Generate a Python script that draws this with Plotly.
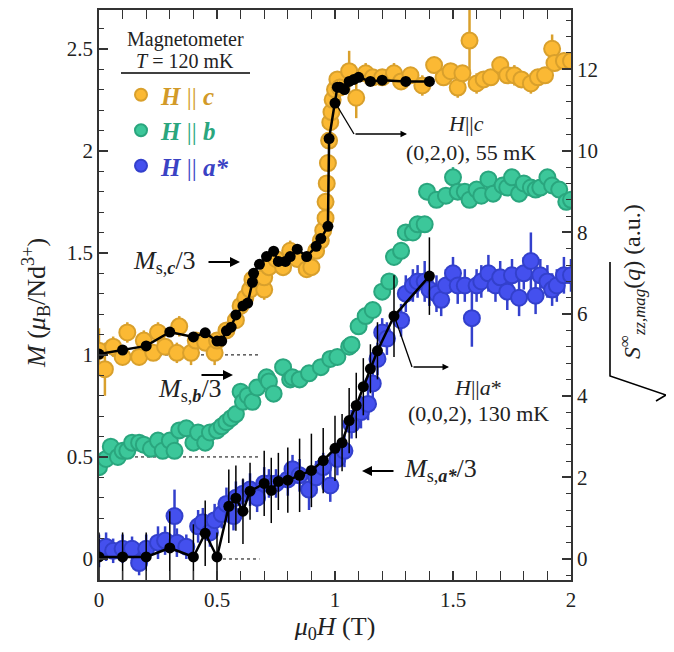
import plotly.graph_objects as go

# ---------------- data ----------------
# Magnetometer, H || c  (left axis, M in muB/Nd)
c_x = [0.00, 0.025, 0.06, 0.10, 0.12, 0.17, 0.19, 0.23, 0.25, 0.28, 0.33, 0.34, 0.39, 0.41, 0.45, 0.49, 0.50,
       0.54, 0.58, 0.60, 0.62, 0.64, 0.65, 0.70, 0.70, 0.72, 0.75, 0.78, 0.81, 0.84, 0.88, 0.90, 0.92, 0.94,
       0.95, 0.96, 0.96, 0.965, 0.97, 0.975, 0.98, 0.985, 0.99, 1.00, 1.01, 1.02, 1.06, 1.09, 1.13, 1.16, 1.20,
       1.25, 1.28, 1.32, 1.37, 1.42, 1.46, 1.49, 1.52, 1.54, 1.57, 1.60, 1.63, 1.66, 1.70, 1.73, 1.76, 1.79,
       1.83, 1.86, 1.89, 1.92, 1.93, 1.97, 2.00]
c_y = [1.02, 0.93, 1.04, 0.99, 1.11, 0.99, 1.07, 1.01, 1.11, 1.04, 1.01, 1.14, 1.01, 1.07, 1.06, 1.01, 1.07,
       1.12, 1.17, 1.24, 1.28, 1.32, 1.37, 1.32, 1.38, 1.43, 1.47, 1.43, 1.51, 1.47, 1.42, 1.43, 1.51, 1.56,
       1.61, 1.67, 1.75, 1.84, 1.94, 2.05, 2.14, 2.19, 2.25, 2.30, 2.35, 2.31, 2.39, 2.26, 2.38, 2.36, 2.36,
       2.38, 2.34, 2.37, 2.32, 2.42, 2.36, 2.39, 2.31, 2.38, 2.54, 2.33, 2.35, 2.36, 2.42, 2.37, 2.37, 2.35,
       2.33, 2.36, 2.37, 2.50, 2.43, 2.44, 2.44]
c_err = [0.11, 0.13, 0.05, 0.04, 0.05, 0.04, 0.05, 0.04, 0.05, 0.04, 0.05, 0.05, 0.06, 0.04, 0.04, 0.06, 0.04,
         0.04, 0.04, 0.04, 0.04, 0.04, 0.04, 0.05, 0.04, 0.04, 0.05, 0.04, 0.05, 0.04, 0.04, 0.04, 0.04, 0.04,
         0.04, 0.04, 0.04, 0.04, 0.04, 0.04, 0.04, 0.04, 0.04, 0.04, 0.04, 0.04, 0.10, 0.10, 0.05, 0.04, 0.04,
         0.05, 0.04, 0.04, 0.05, 0.04, 0.04, 0.04, 0.05, 0.04, 0.15, 0.05, 0.04, 0.04, 0.04, 0.04, 0.05, 0.04,
         0.05, 0.04, 0.04, 0.07, 0.04, 0.04, 0.04]

# Magnetometer, H || b
b_x = [0.00, 0.03, 0.05, 0.08, 0.10, 0.12, 0.14, 0.17, 0.19, 0.22, 0.25, 0.27, 0.30, 0.32, 0.34, 0.37, 0.40,
       0.42, 0.45, 0.47, 0.50, 0.52, 0.54, 0.56, 0.58, 0.60, 0.61, 0.63, 0.65, 0.67, 0.71, 0.72, 0.74, 0.78,
       0.81, 0.82, 0.85, 0.89, 0.94, 0.98, 1.01, 1.06, 1.07, 1.10, 1.13, 1.16, 1.20, 1.23, 1.25, 1.28, 1.30,
       1.33, 1.35, 1.38, 1.39, 1.43, 1.47, 1.50, 1.52, 1.55, 1.57, 1.60, 1.62, 1.65, 1.67, 1.71, 1.73, 1.75,
       1.78, 1.80, 1.83, 1.85, 1.87, 1.90, 1.92, 1.95, 1.98, 2.00]
b_y = [0.45, 0.49, 0.55, 0.50, 0.53, 0.53, 0.57, 0.57, 0.56, 0.54, 0.58, 0.53, 0.58, 0.53, 0.63, 0.64, 0.57,
       0.62, 0.57, 0.62, 0.63, 0.65, 0.67, 0.69, 0.71, 0.82, 0.77, 0.80, 0.77, 0.84, 0.89, 0.87, 0.81, 0.94,
       0.88, 0.89, 0.88, 0.91, 0.94, 0.98, 0.99, 1.04, 1.05, 1.14, 1.19, 1.22, 1.31, 1.36, 1.48, 1.51, 1.60,
       1.60, 1.64, 1.64, 1.80, 1.76, 1.78, 1.87, 1.80, 1.80, 1.76, 1.81, 1.78, 1.86, 1.79, 1.83, 1.82, 1.87,
       1.79, 1.84, 1.82, 1.81, 1.82, 1.87, 1.83, 1.81, 1.75, 1.76]
b_err = [0.03, 0.03, 0.04, 0.03, 0.03, 0.03, 0.04, 0.03, 0.03, 0.03, 0.04, 0.03, 0.03, 0.04, 0.03, 0.04, 0.03,
         0.03, 0.03, 0.04, 0.03, 0.03, 0.03, 0.03, 0.03, 0.04, 0.03, 0.03, 0.03, 0.04, 0.03, 0.03, 0.04, 0.04,
         0.03, 0.03, 0.03, 0.03, 0.03, 0.03, 0.03, 0.04, 0.03, 0.03, 0.03, 0.03, 0.03, 0.03, 0.04, 0.03, 0.03,
         0.03, 0.03, 0.03, 0.04, 0.03, 0.03, 0.05, 0.03, 0.03, 0.03, 0.03, 0.03, 0.04, 0.03, 0.03, 0.03, 0.04,
         0.03, 0.03, 0.03, 0.03, 0.03, 0.04, 0.03, 0.03, 0.04, 0.03]

# Magnetometer, H || a*
a_x = [0.00, 0.03, 0.06, 0.10, 0.14, 0.17, 0.20, 0.25, 0.28, 0.32, 0.33, 0.37, 0.42, 0.44, 0.47, 0.49, 0.52,
       0.54, 0.57, 0.58, 0.61, 0.64, 0.67, 0.70, 0.72, 0.75, 0.80, 0.82, 0.85, 0.89, 0.92, 0.95, 0.98, 1.01,
       1.04, 1.07, 1.11, 1.14, 1.16, 1.18, 1.20, 1.22, 1.28, 1.30, 1.33, 1.35, 1.38, 1.40, 1.43, 1.45, 1.47,
       1.50, 1.52, 1.55, 1.58, 1.60, 1.62, 1.65, 1.68, 1.70, 1.73, 1.75, 1.78, 1.80, 1.83, 1.85, 1.87, 1.90,
       1.92, 1.94, 1.97, 2.00]
a_y = [0.04, 0.06, 0.04, 0.05, 0.05, -0.02, 0.05, 0.08, 0.09, 0.21, 0.08, 0.06, 0.16, 0.18, 0.13, 0.19, 0.22,
       0.27, 0.21, 0.30, 0.32, 0.34, 0.30, 0.37, 0.37, 0.37, 0.39, 0.44, 0.41, 0.34, 0.40, 0.45, 0.36, 0.49,
       0.53, 0.66, 0.72, 0.76, 0.86, 0.98, 1.11, 1.08, 1.17, 1.30, 1.34, 1.36, 1.36, 1.32, 1.30, 1.27, 1.34,
       1.40, 1.34, 1.34, 1.18, 1.34, 1.36, 1.40, 1.34, 1.38, 1.31, 1.39, 1.28, 1.40, 1.46, 1.29, 1.39, 1.36,
       1.32, 1.34, 1.39, 1.39]
a_err = [0.08, 0.07, 0.06, 0.07, 0.06, 0.06, 0.07, 0.08, 0.07, 0.13, 0.07, 0.06, 0.08, 0.07, 0.07, 0.08, 0.07,
         0.08, 0.07, 0.08, 0.07, 0.08, 0.07, 0.08, 0.07, 0.07, 0.08, 0.07, 0.08, 0.10, 0.08, 0.07, 0.08, 0.08,
         0.08, 0.07, 0.08, 0.08, 0.07, 0.08, 0.07, 0.08, 0.08, 0.09, 0.08, 0.08, 0.10, 0.08, 0.09, 0.08, 0.08,
         0.08, 0.09, 0.08, 0.14, 0.08, 0.08, 0.09, 0.08, 0.08, 0.09, 0.08, 0.09, 0.08, 0.14, 0.09, 0.08, 0.08,
         0.08, 0.08, 0.09, 0.08]

# Neutron, H || c, (0,2,0), 55 mK  (right axis)
nc_x = [0.00, 0.10, 0.20, 0.30, 0.40, 0.45, 0.50, 0.52, 0.54, 0.56, 0.58, 0.61, 0.63, 0.65, 0.655, 0.68, 0.71,
        0.74, 0.76, 0.79, 0.81, 0.84, 0.88, 0.92, 0.94, 0.97, 0.975, 1.00, 1.01, 1.02, 1.04, 1.06, 1.08, 1.10,
        1.15, 1.20, 1.30, 1.40]
nc_y = [5.02, 5.12, 5.22, 5.56, 5.44, 5.54, 5.34, 5.34, 5.59, 5.68, 5.98, 6.20, 6.27, 6.78, 7.00, 7.22, 7.41,
        7.54, 7.29, 7.29, 7.41, 7.59, 7.41, 7.66, 7.85, 8.15, 10.30, 11.17, 11.56, 11.56, 11.50, 11.70, 11.75,
        11.80, 11.70, 11.73, 11.70, 11.70]

# Neutron, H || a*, (0,0,2), 130 mK  (right axis)
na_x = [0.00, 0.10, 0.20, 0.30, 0.40, 0.45, 0.50, 0.55, 0.58, 0.61, 0.64, 0.70, 0.73, 0.76, 0.80, 0.85, 0.90,
        0.95, 1.00, 1.03, 1.06, 1.09, 1.12, 1.15, 1.18, 1.25, 1.40]
na_y = [0.05, 0.05, 0.05, 0.27, 0.05, 0.63, 0.05, 1.29, 1.49, 1.17, 1.66, 1.85, 1.68, 1.90, 1.93, 2.05, 2.17,
        2.41, 2.71, 2.85, 3.39, 3.76, 4.22, 4.66, 5.10, 5.95, 6.93]
na_err = [0.6, 0.6, 0.6, 0.9, 0.8, 0.8, 0.6, 0.9, 0.8, 0.8, 0.7, 0.8, 0.8, 0.7, 0.8, 0.9, 0.9,
          0.8, 0.8, 0.7, 0.8, 0.8, 0.7, 0.6, 0.7, 1.0, 0.95]

x_ticks = [0, 0.5, 1, 1.5, 2]
y_ticks = [0, 0.5, 1, 1.5, 2, 2.5]
y2_ticks = [0, 2, 4, 6, 8, 10, 12]

# ---------------- style ----------------
FONT = "Liberation Serif, DejaVu Serif, Times New Roman, serif"
ORANGE, ORANGE_E, ORANGE_T = "#FBB934", "#D9A02C", "#D29A28"
GREEN, GREEN_E, GREEN_T = "#3CC79A", "#2AA67E", "#2AA67E"
BLUE, BLUE_E, BLUE_T = "#4450EE", "#3340CC", "#3A42C4"

# plot area in window pixels; the page body adds an 8px offset
OFF = 8
L, R, T, B = 99, 571, 10, 580
W, H = 674 - OFF, 652 - OFF


def px(x):
    return (x - L) / (R - L)


def py(y):
    return (B - y) / (B - T)


fig = go.Figure()


def mag_trace(x, y, e, fill, edge, tcol, label, grp):
    return go.Scatter(
        x=x, y=y, mode="markers", yaxis="y", legendgroup=grp,
        name=f"<span style='color:{tcol}'><b><i>H</i></b> || <b><i>{label}</i></b></span>",
        marker=dict(size=16, color=fill, line=dict(color=edge, width=2)),
        error_y=dict(type="data", array=e, visible=True, color=edge, thickness=2.5, width=0),
    )


fig.add_trace(mag_trace(c_x, c_y, c_err, ORANGE, ORANGE_E, ORANGE_T, "c", "g1"))
fig.add_trace(mag_trace(b_x, b_y, b_err, GREEN, GREEN_E, GREEN_T, "b", "g2"))
fig.add_trace(mag_trace(a_x, a_y, a_err, BLUE, BLUE_E, BLUE_T, "a*", "g3"))

fig.add_trace(go.Scatter(
    x=nc_x, y=nc_y, yaxis="y2", mode="lines+markers", showlegend=False,
    line=dict(color="black", width=2.5), marker=dict(size=11, color="black"),
))
fig.add_trace(go.Scatter(
    x=na_x, y=na_y, yaxis="y2", mode="lines+markers", showlegend=False,
    line=dict(color="black", width=2.5), marker=dict(size=11, color="black"),
    error_y=dict(type="data", array=na_err, visible=True, color="black", thickness=1.5, width=0),
))

shapes = []
# dotted reference lines (M_s/3 levels)
for yv, x0 in [(1.0, 0.0), (0.5, 0.0), (0.0, 0.5)]:
    shapes.append(dict(type="line", xref="x", yref="y", x0=x0, x1=0.68, y0=yv, y1=yv,
                       line=dict(color="black", width=1, dash="dot"), layer="below"))
# underline of magnetometer header
shapes.append(dict(type="line", xref="paper", yref="paper", x0=px(121), x1=px(250), y0=py(73), y1=py(73),
                   line=dict(color="black", width=1.5)))
# bent leader lines
shapes.append(dict(type="line", xref="paper", yref="paper", x0=px(336), y0=py(104), x1=px(354), y1=py(134),
                   line=dict(color="black", width=1.3)))
shapes.append(dict(type="line", xref="paper", yref="paper", x0=px(395), y0=py(318), x1=px(412), y1=py(367),
                   line=dict(color="black", width=1.3)))
# radical sign of right axis title
shapes.append(dict(type="path", xref="paper", yref="paper",
                   path=f"M {px(610)} {py(262)} L {px(610)} {py(376)} L {px(666)} {py(395)} L {px(656)} {py(401)}",
                   line=dict(color="black", width=1.6)))

ann = []


def text(xp, yp, s, size, **kw):
    d = dict(xref="paper", yref="paper", x=px(xp), y=py(yp), text=s, showarrow=False,
             font=dict(family=FONT, size=size, color="#222"), xanchor="center", yanchor="middle")
    d.update(kw)
    ann.append(d)


def arrow(x0, y0, x1, y1, width=1.5, size=1.0):
    ann.append(dict(xref="paper", yref="paper", axref="pixel", ayref="pixel",
                    x=px(x1), y=py(y1), ax=x0 - x1, ay=y0 - y1, text="", showarrow=True,
                    arrowhead=2, arrowsize=size, arrowwidth=width, arrowcolor="black"))


text(185, 39, "Magnetometer", 20)
text(185, 61, "<i>T</i> = 120 mK", 20)

text(164, 262, "<i>M</i><sub>s,<b><i>c</i></b></sub>/3", 26)
arrow(207, 262, 240, 262, 2)
text(190, 390, "<i>M</i><sub>s,<b><i>b</i></b></sub>/3", 26)
arrow(200, 375, 233, 375, 2)
text(440, 470, "<i>M</i><sub>s,<b><i>a*</i></b></sub>/3", 26)
arrow(395, 471, 362, 471, 2)

text(466, 124, "<i>H</i>||<i>c</i>", 22)
text(471, 152, "(0,2,0), 55 mK", 22)
arrow(354, 134, 407, 134, 1.3)
text(478, 387, "<i>H</i>||<i>a</i>*", 22)
text(478, 413, "(0,0,2), 130 mK", 22)
arrow(412, 367, 449, 367, 1.3)

# axis titles (y titles placed as rotated text)
text(36, 303, "<i>M</i> (<i>μ</i><sub>B</sub>/Nd<sup>3+</sup>)", 26, textangle=-90)
text(632, 282, "<i>S</i><sup>∞</sup><sub><i>zz,mag</i></sub>(<i>q</i>) (a.u.)", 24, textangle=-90)

axis_common = dict(showline=True, linecolor="#333", linewidth=1.5, showgrid=False, zeroline=False,
                   ticks="inside", ticklen=9, tickwidth=1.5, tickcolor="#333", automargin=False,
                   tickfont=dict(family=FONT, size=21, color="#222"))

fig.update_layout(
    width=W, height=H,
    margin=dict(l=L - OFF, r=W - (R - OFF), t=T - OFF, b=H - (B - OFF)),
    paper_bgcolor="white", plot_bgcolor="white",
    font=dict(family=FONT, color="#222"),
    xaxis=dict(range=[0, 2], tickvals=x_ticks, mirror="allticks",
               minor=dict(dtick=0.1, ticklen=5, tickwidth=1.2, tickcolor="#333", ticks="inside"),
               title=dict(text="<i>μ</i><sub>0</sub><i>H</i> (T)", font=dict(family=FONT, size=26), standoff=4),
               **axis_common),
    yaxis=dict(range=[-0.103, 2.69], tickvals=y_ticks,
               minor=dict(dtick=0.1, ticklen=5, tickwidth=1.2, tickcolor="#333", ticks="inside"),
               **axis_common),
    yaxis2=dict(range=[-0.515, 13.45], tickvals=y2_ticks, overlaying="y", side="right",
                minor=dict(dtick=0.4, ticklen=5, tickwidth=1.2, tickcolor="#333", ticks="inside"),
                **axis_common),
    legend=dict(x=px(121), y=py(72), xanchor="left", yanchor="top", bgcolor="rgba(0,0,0,0)",
                font=dict(family=FONT, size=25), traceorder="grouped", tracegroupgap=0,
                itemsizing="constant"),
    shapes=shapes,
    annotations=ann,
)

fig.write_html("out.html")
